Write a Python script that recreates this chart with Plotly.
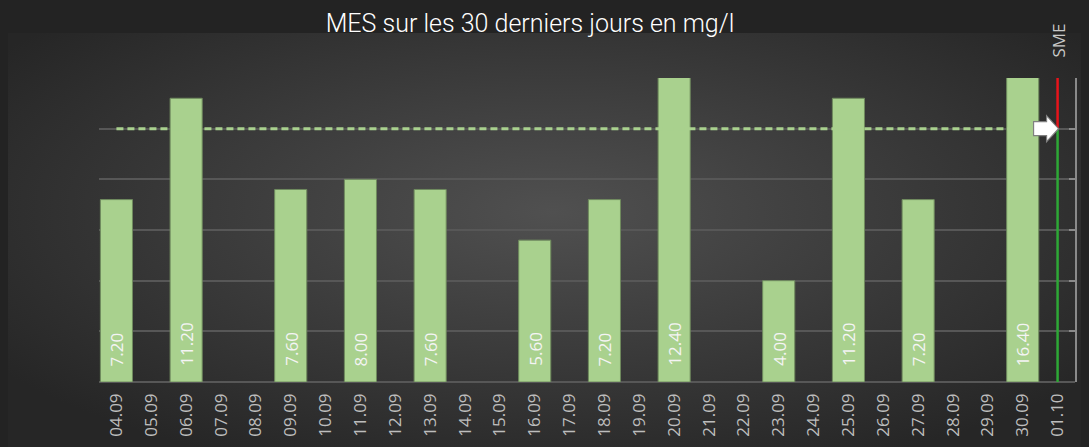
import base64
import plotly.graph_objects as go

dates = ["04.09", "05.09", "06.09", "07.09", "08.09", "09.09", "10.09", "11.09", "12.09",
         "13.09", "14.09", "15.09", "16.09", "17.09", "18.09", "19.09", "20.09", "21.09",
         "22.09", "23.09", "24.09", "25.09", "26.09", "27.09", "28.09", "29.09", "30.09", "01.10"]
values = [7.2, None, 11.2, None, None, 7.6, None, 8.0, None,
          7.6, None, None, 5.6, None, 7.2, None, 12.4, None,
          None, 4.0, None, 11.2, None, 7.2, None, None, 16.4, None]
threshold = 10
y_max = 12
title_text = "MES sur les 30 derniers jours en mg/l"
sme_label = "SME"

OFF = 8  # page offset of the figure
W, H = 1089, 447
L, R, T, B = 99 - OFF, 1089 - (1075 - OFF), 78 - OFF, 447 - (382 - OFF)
pw, ph = W - L - R, H - T - B

svg = f'''<svg xmlns="http://www.w3.org/2000/svg" width="{W}" height="{H}" viewBox="0 0 {W} {H}" preserveAspectRatio="none">
<defs><radialGradient id="g" cx="50%" cy="40%" r="62%" fx="50%" fy="40%">
<stop offset="0%" stop-color="#505050"/><stop offset="100%" stop-color="#262626"/></radialGradient></defs>
<rect x="0" y="0" width="{W}" height="{H}" fill="#232323"/>
<rect x="0" y="{33 - OFF}" width="{W}" height="{H}" fill="url(#g)"/>
</svg>'''
uri = "data:image/svg+xml;base64," + base64.b64encode(svg.encode()).decode()

labels = [f"{v:.2f}" if v is not None else "" for v in values]

fig = go.Figure()
fig.add_trace(go.Bar(
    x=dates, y=values,
    marker=dict(color="#a9d18e", line=dict(color="#6f8a5e", width=1)),
    width=0.92, cliponaxis=True, hoverinfo="x+y",
))

for i, (v, lab) in enumerate(zip(values, labels)):
    if v is None:
        continue
    fig.add_annotation(x=i, y=0, text=lab, showarrow=False, textangle=-90,
                       yanchor="bottom", xanchor="center", yshift=14,
                       font=dict(color="#f4f4f4", size=17, family="Open Sans"))

# threshold dashed line
fig.add_shape(type="line", xref="x", yref="y", x0=0, x1=26.4, y0=threshold, y1=threshold,
              line=dict(color="#a9d18e", width=3, dash="7px,4px"), layer="above")
# SME vertical line: green below threshold, red above
fig.add_shape(type="line", xref="x", yref="y", x0=27, x1=27, y0=0, y1=threshold,
              line=dict(color="#2ea836", width=2.5), layer="above")
fig.add_shape(type="line", xref="x", yref="y", x0=27, x1=27, y0=threshold, y1=y_max,
              line=dict(color="#e8141b", width=2.5), layer="above")
# arrow pointing to the threshold
fig.add_shape(type="path", xref="x", yref="y", xsizemode="pixel", ysizemode="pixel",
              xanchor=27, yanchor=threshold,
              path="M -24 -7 L -11 -7 L -11 -13 L 1 0 L -11 13 L -11 7 L -24 7 Z",
              fillcolor="white", line=dict(color="#808080", width=1.2), layer="above")

fig.add_annotation(text=sme_label, xref="x", yref="paper", x=27, y=1.0, yshift=18,
                   yanchor="bottom", xanchor="center", textangle=-90, showarrow=False,
                   font=dict(color="#c8c8c8", size=17, family="Open Sans"))

fig.update_layout(
    width=W, height=H,
    margin=dict(l=L, r=R, t=T, b=B),
    paper_bgcolor="#232323", plot_bgcolor="rgba(0,0,0,0)",
    showlegend=False, bargap=0.08,
    title=dict(text=title_text, x=(530 - OFF) / W, xanchor="center",
               y=1 - (23 - OFF) / H, yanchor="middle",
               font=dict(color="white", size=25,
                         family="Roboto Light, Lato Light, Open Sans Light, Lato", weight=300)),
    images=[dict(source=uri, xref="paper", yref="paper", x=-L / pw, y=1 + T / ph,
                 sizex=W / pw, sizey=H / ph, xanchor="left", yanchor="top",
                 sizing="stretch", layer="below")],
    xaxis=dict(type="category", categoryorder="array", categoryarray=dates,
               range=[-0.5, 27.5], tickangle=-90, showgrid=False, showline=False,
               ticks="", ticklabelstandoff=7,
               tickfont=dict(color="#bdbdbd", size=17, family="Open Sans")),
    yaxis=dict(range=[0, y_max], dtick=2, side="right", showticklabels=False,
               showgrid=True, gridcolor="#575757", gridwidth=2,
               zeroline=True, zerolinecolor="#575757", zerolinewidth=2,
               showline=True, linecolor="#8a8a8a", linewidth=1.5,
               ticks="inside", ticklen=6, tickcolor="#8a8a8a", tickwidth=1.5),
)

fig.write_html("out.html",
               post_script="document.body.style.background='#232323';"
                           "document.documentElement.style.background='#232323';")
